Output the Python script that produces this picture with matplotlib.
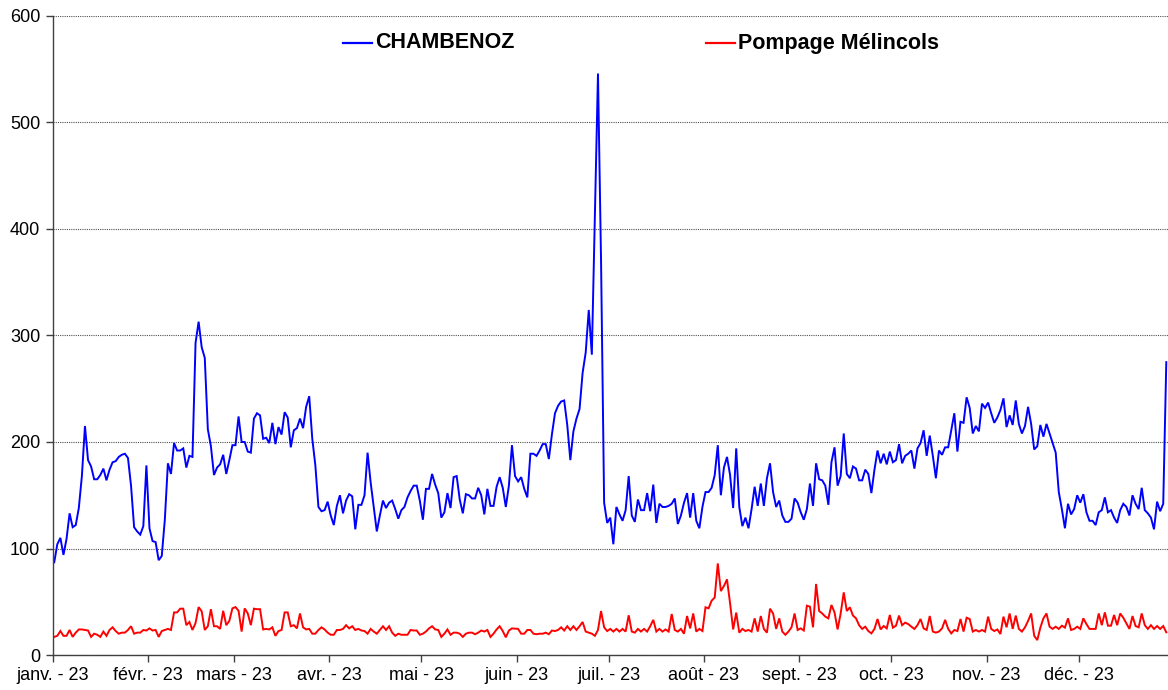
import matplotlib
matplotlib.use("Agg")
import matplotlib.pyplot as plt
from matplotlib.lines import Line2D
import numpy as np

# ---- data (daily values, 2023) ----
chambenoz_jan = [87,104,110,94,109,133,120,122,138,168,215,183,177,165,165,169,175,164,174,181,182,186,188,189,185,159,120,116,113,121,178]
chambenoz_feb = [119,107,106,89,93,127,180,170,199,192,192,194,176,187,186,293,313,289,279,212,196,169,176,179,188,170,183,197]
chambenoz_mar = [197,224,200,200,191,190,222,227,225,203,204,199,218,198,214,207,228,223,195,211,213,222,213,233,243,203,178,139,135,136,144]
chambenoz_apr = [131,122,140,150,133,145,151,149,118,141,141,150,190,162,139,116,131,145,138,143,145,137,128,136,139,148,154,159,159,145]
chambenoz_may = [127,156,156,170,160,152,129,134,152,138,167,168,146,133,151,150,147,147,157,150,132,156,140,140,158,167,157,139,159,197,168]
chambenoz_jun = [163,167,156,148,189,189,187,192,198,198,184,207,227,234,238,239,216,183,210,222,231,265,284,324,282,415,546,370,143,124]
chambenoz_jul = [129,104,139,132,126,136,168,131,125,146,136,136,152,135,160,124,142,139,139,140,142,147,123,131,143,152,129,152,126,119,139]
chambenoz_aug = [153,153,157,169,197,150,176,186,169,138,194,139,121,129,119,137,158,140,161,140,166,180,153,139,145,131,125,125,128,147,143]
chambenoz_sep = [134,127,137,161,140,180,165,164,159,141,181,195,159,168,208,170,166,177,175,164,164,174,170,152,174,192,180,189,179,191]
chambenoz_oct = [181,183,198,180,187,189,192,175,194,199,211,187,206,187,166,192,188,195,195,211,227,191,219,218,242,232,208,215,210,236,232]
chambenoz_nov = [237,227,218,223,230,241,214,225,216,239,217,208,215,233,217,193,196,216,205,217,208,199,190,153,137,119,142,132,137,150]
chambenoz_dec = [143,151,134,126,126,122,134,136,148,134,136,129,124,136,142,139,131,150,142,137,157,136,133,129,118,144,135,142,275]

pompage_jan = [17,18,22.5,18,18,23.5,17,21,24,24,23.5,23,17,20,19,17,22,18,23.5,26,22.5,20,21,21,23.5,27,20,21,21,23.5,23]
pompage_feb = [25,23,23.5,17,22.5,23.5,24.5,23.5,40,40,43.5,43.5,28,31,23.5,30,45,41,23.5,27,43,27,27,24.5,41.5,28,32,43.8]
pompage_mar = [45,41.5,22,43.8,39,28,43.5,43,43,24,24.5,24,26,18,22.5,23.5,40,40,27,28,25,39,26,24,24.5,20,20,23.5,26,24,21]
pompage_apr = [19,19,23.5,23.5,24.5,28,25,27,23.5,24.5,23,22.5,20,24.5,22,20,23.5,27,23.5,27,21,18,20,19,19,19,23.5,23,23,19]
pompage_may = [20,22,25,27,24,23.5,17,20,24,19,21,21,20,17,20,21,21,19.5,21,23,22,23.5,17,20,24,27,22.5,16.6,23,25,24.8]
pompage_jun = [24.5,20,20,23.5,23.5,20,19.5,20,20,21,19.5,23,22.5,23.5,26,23,27,23.5,27,23.5,27,31,22,21,20,18,23.5,41.3,26,22.5]
pompage_jul = [24.5,22,24.5,22,24.5,22,37.3,22,21,24.5,22,24.5,22,27,33,22,24.5,22,24,22,38.5,23.5,22,24.5,20,36.6,25,39,22,24.5,22.5]
pompage_aug = [44.8,43.8,51,54,86,60,64.8,71,48.5,24,39.8,21,24.5,22.5,23.5,22,34.4,22,36.6,24.5,21,43.5,39,24.5,34.4,22,19,22,26,39,23.5]
pompage_sep = [25,23,46.3,45.4,26,66.7,41.3,39,36,34.4,47,40,24,39,58.8,41.3,44.8,37,34.4,28,24.5,26.6,22.5,20.3,24.5,33.8,24,27.2,25,37.6]
pompage_oct = [25.7,27.5,37,28,30.4,29,26.6,24.5,28,33.8,25,23.5,36.6,22,21,22,25,33,24.5,20.3,23.5,22.5,33.8,22,35,33.8,22,23.5,22,23.5,22]
pompage_nov = [36,24.5,22.5,24,19.7,36,26,39,24.5,37,24.5,22,26,32,39,18,14,25.7,34.4,39,26.6,24.5,26.6,24.5,27.5,25.7,34.4,23.5,24.5,26.6]
pompage_dec = [24.5,34.4,29,24.5,24.5,24.5,39,28,40,27.5,27.5,37.6,28,39,35,29.7,24.5,36.6,27.2,26,39,28,24.5,28,24.5,27.2,24.5,27.2,21.3]

month_start_days = [0, 31, 59, 90, 120, 151, 181, 212, 243, 273, 304, 334]
month_labels = ['janv. - 23', 'févr. - 23', 'mars - 23', 'avr. - 23', 'mai - 23', 'juin - 23',
                'juil. - 23', 'août - 23', 'sept. - 23', 'oct. - 23', 'nov. - 23', 'déc. - 23']
y_ticks = [0, 100, 200, 300, 400, 500, 600]

series_names = ['CHAMBENOZ', 'Pompage Mélincols']
series_colors = ['#0000ff', '#ff0000']

chambenoz = (chambenoz_jan + chambenoz_feb + chambenoz_mar + chambenoz_apr + chambenoz_may + chambenoz_jun +
             chambenoz_jul + chambenoz_aug + chambenoz_sep + chambenoz_oct + chambenoz_nov + chambenoz_dec)
pompage = (pompage_jan + pompage_feb + pompage_mar + pompage_apr + pompage_may + pompage_jun +
           pompage_jul + pompage_aug + pompage_sep + pompage_oct + pompage_nov + pompage_dec)

plt.rcParams['font.family'] = ['Liberation Sans', 'DejaVu Sans']

W, H = 1168, 690
fig = plt.figure(figsize=(W / 100, H / 100), dpi=100)
left_px, right_px, top_px, bottom_px = 52.7, 1168, 16, 655
ax = fig.add_axes([left_px / W, 1 - bottom_px / H, (right_px - left_px) / W, (bottom_px - top_px) / H])

days_b = np.arange(len(chambenoz)) + 0.5
days_r = np.arange(len(pompage)) + 0.5
ax.plot(days_b, chambenoz, color=series_colors[0], lw=1.4, solid_joinstyle='miter')
ax.plot(days_r, pompage, color=series_colors[1], lw=1.4, solid_joinstyle='miter')

x_right = (right_px - left_px) / 3.072
ax.set_xlim(0, x_right)
ax.set_ylim(0, 600)
ax.set_yticks(y_ticks)
ax.set_xticks(month_start_days)
ax.set_xticklabels(month_labels)
ax.yaxis.grid(True, linestyle=(0, (1, 1)), color='#505050', lw=0.8)
ax.set_axisbelow(True)

for s in ['top', 'right']:
    ax.spines[s].set_visible(False)
for s in ['left', 'bottom']:
    ax.spines[s].set_color('#404040')
    ax.spines[s].set_linewidth(1.0)
ax.tick_params(axis='both', direction='out', length=5, width=1, color='#404040',
               labelsize=13, pad=4, labelcolor='black')

# legend (manual, top centre)
ly = 1 - 43 / H
fig.add_artist(Line2D([343 / W, 372 / W], [ly, ly], color=series_colors[0], lw=1.6))
fig.text(375 / W, ly, series_names[0], fontsize=15.5, fontweight='bold', va='center', ha='left')
fig.add_artist(Line2D([706 / W, 735 / W], [ly, ly], color=series_colors[1], lw=1.6))
fig.text(738 / W, ly, series_names[1], fontsize=15.5, fontweight='bold', va='center', ha='left')

fig.savefig('out.png', dpi=100)
